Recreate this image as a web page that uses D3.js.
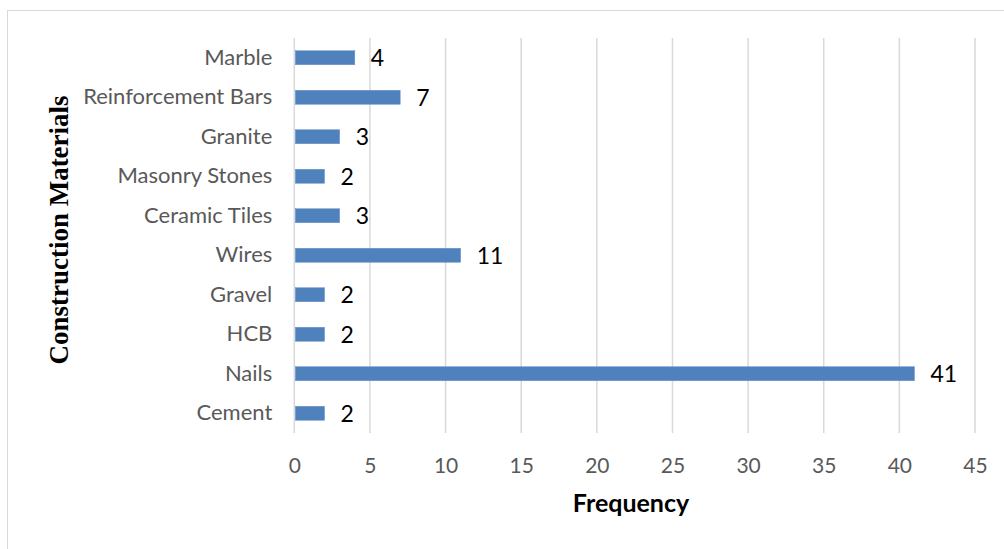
<!DOCTYPE html>
<html>
<head>
<meta charset="utf-8">
<script src="https://cdn.jsdelivr.net/npm/d3@7"></script>
<style>
  html, body { margin: 0; padding: 0; background: #fff; }
  svg { display: block; }
</style>
</head>
<body>
<svg id="chart" width="1004" height="549"></svg>
<script>
// Construction materials and how often each was reported
const materials = ["Marble", "Reinforcement Bars", "Granite", "Masonry Stones", "Ceramic Tiles",
                   "Wires", "Gravel", "HCB", "Nails", "Cement"];
const frequency = [4, 7, 3, 2, 3, 11, 2, 2, 41, 2];
const xTicks = [0, 5, 10, 15, 20, 25, 30, 35, 40, 45];

const svg = d3.select("#chart");
const W = 1004, H = 549;
const plot = { left: 294.3, right: 975, top: 38, bottom: 433 };

// chart frame
svg.append("rect")
  .attr("x", 7.5).attr("y", 10.5)
  .attr("width", W).attr("height", H)
  .attr("fill", "#fff").attr("stroke", "#d9d9d9").attr("stroke-width", 1);

const x = d3.scaleLinear().domain([0, 45]).range([plot.left, plot.right]);
const y = d3.scaleBand().domain(materials).range([plot.top, plot.bottom]).paddingInner(0.645).paddingOuter(0.3225);

const labelFont = "Lato, 'Open Sans', sans-serif";

// vertical gridlines
svg.append("g").selectAll("line").data(xTicks).join("line")
  .attr("x1", d => x(d)).attr("x2", d => x(d))
  .attr("y1", plot.top).attr("y2", plot.bottom)
  .attr("stroke", "#d9d9d9").attr("stroke-width", 1.5);

// x axis tick labels
const xAxis = d3.axisBottom(x).tickValues(xTicks).tickSize(0).tickPadding(0);
const gx = svg.append("g").attr("transform", `translate(0,${plot.bottom + 25})`).call(xAxis);
gx.select(".domain").remove();
gx.selectAll("text")
  .attr("font-family", labelFont).attr("font-size", 21).attr("fill", "#595959")
  .attr("dy", "0.71em");

// y axis category labels
const yAxis = d3.axisLeft(y).tickSize(0).tickPadding(22);
const gy = svg.append("g").attr("transform", `translate(${plot.left},0)`).call(yAxis);
gy.select(".domain").remove();
gy.selectAll("text")
  .attr("font-family", labelFont).attr("font-size", 22).attr("fill", "#595959");

// bars
const rows = materials.map((m, i) => ({ m, v: frequency[i] }));
svg.append("g").selectAll("rect").data(rows).join("rect")
  .attr("x", x(0) + 1)
  .attr("y", d => y(d.m))
  .attr("width", d => x(d.v) - x(0) - 1)
  .attr("height", y.bandwidth())
  .attr("fill", "#4f81bd")
  .attr("stroke", "#6a95cc").attr("stroke-width", 0.5);

// value labels
svg.append("g").selectAll("text").data(rows).join("text")
  .attr("x", d => x(d.v) + 16)
  .attr("y", d => y(d.m) + y.bandwidth() / 2)
  .attr("dy", "0.36em")
  .attr("font-family", labelFont).attr("font-size", 23).attr("fill", "#000")
  .text(d => d.v);

// axis titles
svg.append("text")
  .attr("x", 631).attr("y", 512)
  .attr("text-anchor", "middle")
  .attr("font-family", labelFont).attr("font-weight", "bold").attr("font-size", 25).attr("fill", "#000")
  .text("Frequency");

svg.append("text")
  .attr("transform", "translate(68,230) rotate(-90)")
  .attr("text-anchor", "middle")
  .attr("font-family", "'Liberation Serif', 'Times New Roman', serif").attr("font-weight", "bold")
  .attr("font-size", 27).attr("fill", "#000")
  .text("Construction Materials");
</script>
</body>
</html>
